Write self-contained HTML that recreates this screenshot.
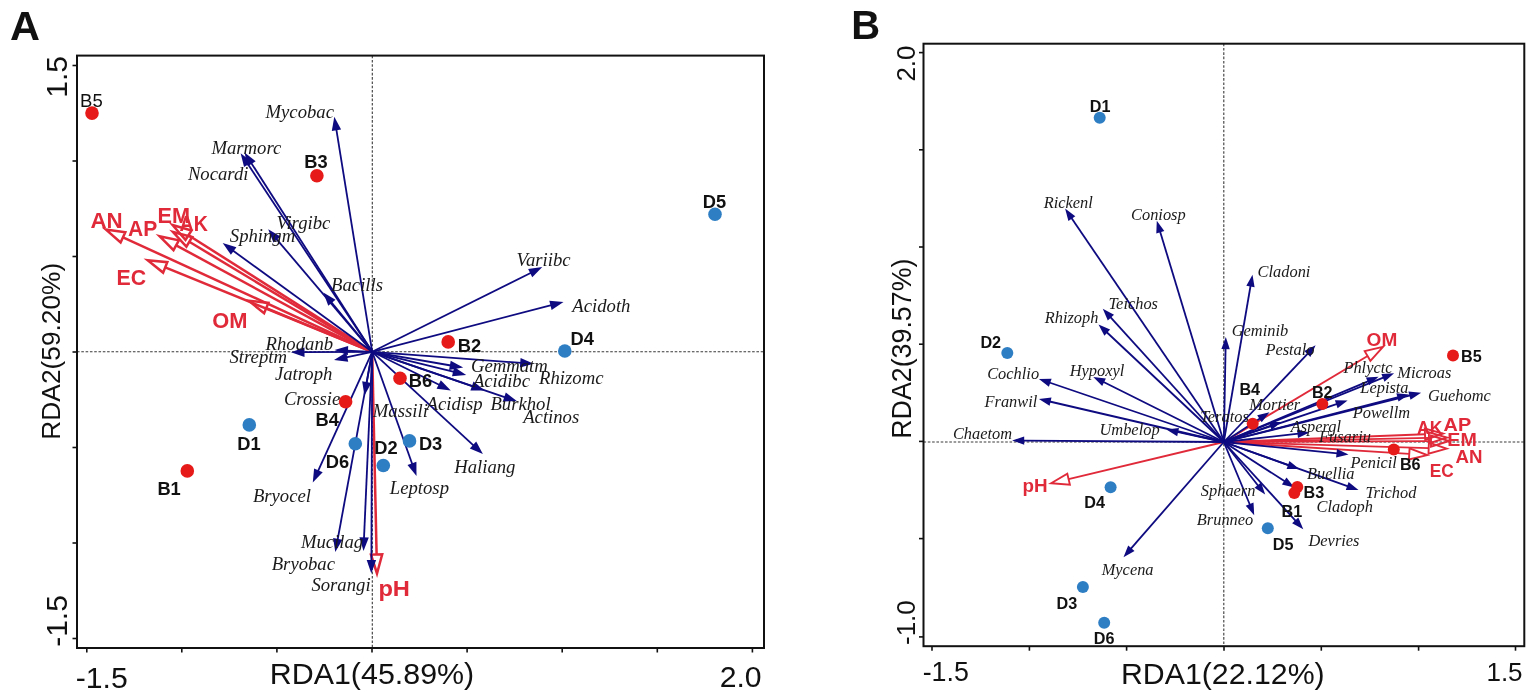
<!DOCTYPE html>
<html><head><meta charset="utf-8"><style>
html,body{margin:0;padding:0;background:#fff;}
svg{display:block;}
.sp{font-family:"Liberation Serif",serif;font-style:italic;fill:#1a1a1a;}
.smp{font-family:"Liberation Sans",sans-serif;font-weight:bold;fill:#111;}
.smpr{font-family:"Liberation Sans",sans-serif;fill:#111;}
.env{font-family:"Liberation Sans",sans-serif;font-weight:bold;fill:#e02a3a;}
.ax{font-family:"Liberation Sans",sans-serif;fill:#111;}
.panel{font-family:"Liberation Sans",sans-serif;font-weight:bold;fill:#111;}
</style></head><body>
<svg width="1535" height="698" viewBox="0 0 1535 698">
<rect width="1535" height="698" fill="#fff"/>
<line x1="77" y1="351.7" x2="764" y2="351.7" stroke="#3a3a3a" stroke-width="1.1" stroke-dasharray="2.6 1.7"/>
<line x1="372.3" y1="55.6" x2="372.3" y2="648" stroke="#3a3a3a" stroke-width="1.1" stroke-dasharray="2.6 1.7"/>
<line x1="372.2" y1="351.8" x2="123.0" y2="237.3" stroke="#e02a3a" stroke-width="2.5"/>
<polygon points="105.7,229.4 125.3,232.2 120.6,242.4" fill="none" stroke="#e02a3a" stroke-width="2.5" stroke-linejoin="miter"/>
<line x1="372.2" y1="351.8" x2="176.2" y2="245.3" stroke="#e02a3a" stroke-width="2.5"/>
<polygon points="159.5,236.2 178.9,240.4 173.5,250.2" fill="none" stroke="#e02a3a" stroke-width="2.5" stroke-linejoin="miter"/>
<line x1="372.2" y1="351.8" x2="188.5" y2="235.2" stroke="#e02a3a" stroke-width="2.5"/>
<polygon points="172.5,225.0 191.5,230.5 185.5,239.9" fill="none" stroke="#e02a3a" stroke-width="2.5" stroke-linejoin="miter"/>
<line x1="372.2" y1="351.8" x2="189.3" y2="241.8" stroke="#e02a3a" stroke-width="2.5"/>
<polygon points="173.0,232.0 192.2,237.0 186.4,246.6" fill="none" stroke="#e02a3a" stroke-width="2.5" stroke-linejoin="miter"/>
<line x1="372.2" y1="351.8" x2="165.2" y2="267.4" stroke="#e02a3a" stroke-width="2.5"/>
<polygon points="147.6,260.2 167.3,262.2 163.1,272.6" fill="none" stroke="#e02a3a" stroke-width="2.5" stroke-linejoin="miter"/>
<line x1="372.2" y1="351.8" x2="266.3" y2="308.1" stroke="#e02a3a" stroke-width="2.5"/>
<polygon points="248.7,300.8 268.4,302.9 264.1,313.2" fill="none" stroke="#e02a3a" stroke-width="2.5" stroke-linejoin="miter"/>
<line x1="372.2" y1="351.8" x2="376.6" y2="554.5" stroke="#e02a3a" stroke-width="2.5"/>
<polygon points="377.0,573.5 371.0,554.6 382.2,554.4" fill="none" stroke="#e02a3a" stroke-width="2.5" stroke-linejoin="miter"/>
<line x1="372.2" y1="351.8" x2="336.3" y2="129.1" stroke="#0e0a80" stroke-width="1.8"/>
<polygon points="334.3,116.8 341.1,129.4 331.8,130.9" fill="#0e0a80"/>
<line x1="372.2" y1="351.8" x2="247.5" y2="163.6" stroke="#0e0a80" stroke-width="1.8"/>
<polygon points="240.6,153.2 252.0,161.9 244.1,167.0" fill="#0e0a80"/>
<line x1="372.2" y1="351.8" x2="251.2" y2="162.9" stroke="#0e0a80" stroke-width="1.8"/>
<polygon points="244.5,152.4 255.7,161.2 247.8,166.3" fill="#0e0a80"/>
<line x1="372.2" y1="351.8" x2="276.3" y2="238.8" stroke="#0e0a80" stroke-width="1.8"/>
<polygon points="268.2,229.3 280.5,236.5 273.4,242.6" fill="#0e0a80"/>
<line x1="372.2" y1="351.8" x2="232.8" y2="250.5" stroke="#0e0a80" stroke-width="1.8"/>
<polygon points="222.7,243.1 236.4,247.2 230.9,254.8" fill="#0e0a80"/>
<line x1="372.2" y1="351.8" x2="331.2" y2="302.1" stroke="#0e0a80" stroke-width="1.8"/>
<polygon points="323.3,292.4 335.5,299.8 328.3,305.8" fill="#0e0a80"/>
<line x1="372.2" y1="351.8" x2="347.0" y2="350.6" stroke="#0e0a80" stroke-width="1.8"/>
<polygon points="334.5,350.0 348.2,345.9 347.8,355.3" fill="#0e0a80"/>
<line x1="372.2" y1="351.8" x2="303.5" y2="352.2" stroke="#0e0a80" stroke-width="1.8"/>
<polygon points="291.0,352.3 304.5,347.5 304.5,356.9" fill="#0e0a80"/>
<line x1="372.2" y1="351.8" x2="346.2" y2="357.4" stroke="#0e0a80" stroke-width="1.8"/>
<polygon points="334.0,360.0 346.2,352.6 348.2,361.8" fill="#0e0a80"/>
<line x1="372.2" y1="351.8" x2="366.6" y2="383.1" stroke="#0e0a80" stroke-width="1.8"/>
<polygon points="364.4,395.4 362.2,381.3 371.4,382.9" fill="#0e0a80"/>
<line x1="372.2" y1="351.8" x2="318.0" y2="471.2" stroke="#0e0a80" stroke-width="1.8"/>
<polygon points="312.8,482.6 314.1,468.4 322.7,472.3" fill="#0e0a80"/>
<line x1="372.2" y1="351.8" x2="337.6" y2="539.8" stroke="#0e0a80" stroke-width="1.8"/>
<polygon points="335.3,552.1 333.1,538.0 342.4,539.7" fill="#0e0a80"/>
<line x1="372.2" y1="351.8" x2="364.0" y2="538.4" stroke="#0e0a80" stroke-width="1.8"/>
<polygon points="363.5,550.9 359.4,537.2 368.8,537.6" fill="#0e0a80"/>
<line x1="372.2" y1="351.8" x2="371.4" y2="561.0" stroke="#0e0a80" stroke-width="1.8"/>
<polygon points="371.3,573.5 366.7,560.0 376.1,560.0" fill="#0e0a80"/>
<line x1="372.2" y1="351.8" x2="412.3" y2="464.2" stroke="#0e0a80" stroke-width="1.8"/>
<polygon points="416.5,476.0 407.5,464.9 416.4,461.7" fill="#0e0a80"/>
<line x1="372.2" y1="351.8" x2="473.7" y2="445.6" stroke="#0e0a80" stroke-width="1.8"/>
<polygon points="482.9,454.1 469.8,448.4 476.2,441.5" fill="#0e0a80"/>
<line x1="372.2" y1="351.8" x2="439.6" y2="385.0" stroke="#0e0a80" stroke-width="1.8"/>
<polygon points="450.8,390.5 436.6,388.8 440.8,380.3" fill="#0e0a80"/>
<line x1="372.2" y1="351.8" x2="472.9" y2="386.3" stroke="#0e0a80" stroke-width="1.8"/>
<polygon points="484.7,390.4 470.4,390.5 473.5,381.6" fill="#0e0a80"/>
<line x1="372.2" y1="351.8" x2="505.3" y2="397.3" stroke="#0e0a80" stroke-width="1.8"/>
<polygon points="517.1,401.3 502.8,401.4 505.8,392.5" fill="#0e0a80"/>
<line x1="372.2" y1="351.8" x2="454.1" y2="371.9" stroke="#0e0a80" stroke-width="1.8"/>
<polygon points="466.2,374.9 452.0,376.2 454.2,367.1" fill="#0e0a80"/>
<line x1="372.2" y1="351.8" x2="450.9" y2="365.5" stroke="#0e0a80" stroke-width="1.8"/>
<polygon points="463.2,367.6 449.1,369.9 450.7,360.7" fill="#0e0a80"/>
<line x1="372.2" y1="351.8" x2="521.2" y2="362.9" stroke="#0e0a80" stroke-width="1.8"/>
<polygon points="533.7,363.8 519.9,367.5 520.6,358.1" fill="#0e0a80"/>
<line x1="372.2" y1="351.8" x2="551.4" y2="305.1" stroke="#0e0a80" stroke-width="1.8"/>
<polygon points="563.5,301.9 551.6,309.9 549.3,300.8" fill="#0e0a80"/>
<line x1="372.2" y1="351.8" x2="531.1" y2="272.7" stroke="#0e0a80" stroke-width="1.8"/>
<polygon points="542.3,267.1 532.3,277.3 528.1,268.9" fill="#0e0a80"/>
<circle cx="92.0" cy="113.1" r="6.8" fill="#e61a18"/>
<circle cx="316.9" cy="175.7" r="6.8" fill="#e61a18"/>
<circle cx="448.2" cy="341.9" r="6.8" fill="#e61a18"/>
<circle cx="400.0" cy="378.3" r="6.8" fill="#e61a18"/>
<circle cx="345.6" cy="401.8" r="6.8" fill="#e61a18"/>
<circle cx="187.3" cy="470.9" r="6.8" fill="#e61a18"/>
<circle cx="715.0" cy="214.3" r="6.8" fill="#2e7ec4"/>
<circle cx="564.8" cy="351.0" r="6.8" fill="#2e7ec4"/>
<circle cx="249.3" cy="424.9" r="6.8" fill="#2e7ec4"/>
<circle cx="355.3" cy="443.7" r="6.8" fill="#2e7ec4"/>
<circle cx="383.3" cy="465.5" r="6.8" fill="#2e7ec4"/>
<circle cx="409.5" cy="440.9" r="6.8" fill="#2e7ec4"/>
<text x="265.5" y="117.6" class="sp" font-size="18.7">Mycobac</text>
<text x="211.4" y="153.7" class="sp" font-size="18.7">Marmorc</text>
<text x="187.9" y="179.7" class="sp" font-size="18.7">Nocardi</text>
<text x="276.4" y="229.2" class="sp" font-size="18.7">Virgibc</text>
<text x="229.8" y="241.8" class="sp" font-size="18.7">Sphingm</text>
<text x="331.1" y="290.9" class="sp" font-size="18.7">Bacills</text>
<text x="265.6" y="349.5" class="sp" font-size="18.7">Rhodanb</text>
<text x="229.5" y="362.9" class="sp" font-size="18.7">Streptm</text>
<text x="274.9" y="379.5" class="sp" font-size="18.7">Jatroph</text>
<text x="283.9" y="405.3" class="sp" font-size="18.7">Crossie</text>
<text x="372.8" y="416.9" class="sp" font-size="18.7">Massili</text>
<text x="252.9" y="501.7" class="sp" font-size="18.7">Bryocel</text>
<text x="389.8" y="494.4" class="sp" font-size="18.7">Leptosp</text>
<text x="300.9" y="548.0" class="sp" font-size="18.7">Mucilag</text>
<text x="271.7" y="569.9" class="sp" font-size="18.7">Bryobac</text>
<text x="311.4" y="590.7" class="sp" font-size="18.7">Sorangi</text>
<text x="454.2" y="472.8" class="sp" font-size="18.7">Haliang</text>
<text x="426.5" y="409.8" class="sp" font-size="18.7">Acidisp</text>
<text x="490.4" y="409.8" class="sp" font-size="18.7">Burkhol</text>
<text x="523.2" y="422.7" class="sp" font-size="18.7">Actinos</text>
<text x="472.9" y="386.6" class="sp" font-size="18.7">Acidibc</text>
<text x="470.9" y="372.4" class="sp" font-size="18.7">Gemmatm</text>
<text x="539.1" y="384.0" class="sp" font-size="18.7">Rhizomc</text>
<text x="572.3" y="311.8" class="sp" font-size="18.7">Acidoth</text>
<text x="516.6" y="265.8" class="sp" font-size="18.7">Variibc</text>
<text x="304.3" y="168.4" class="smp" font-size="18.3">B3</text>
<text x="457.8" y="351.5" class="smp" font-size="18.3">B2</text>
<text x="408.7" y="387.3" class="smp" font-size="18.3">B6</text>
<text x="315.6" y="426.4" class="smp" font-size="18.3">B4</text>
<text x="157.4" y="495.4" class="smp" font-size="18.3">B1</text>
<text x="702.8" y="207.9" class="smp" font-size="18.3">D5</text>
<text x="570.6" y="344.5" class="smp" font-size="18.3">D4</text>
<text x="237.3" y="449.7" class="smp" font-size="18.3">D1</text>
<text x="325.8" y="468.3" class="smp" font-size="18.3">D6</text>
<text x="374.2" y="454.3" class="smp" font-size="18.3">D2</text>
<text x="418.9" y="449.6" class="smp" font-size="18.3">D3</text>
<text x="80.1" y="106.8" class="smpr" font-size="18.5">B5</text>
<text x="90.5" y="227.8" class="env" font-size="21.8" textLength="32.25" lengthAdjust="spacingAndGlyphs">AN</text>
<text x="128.1" y="235.8" class="env" font-size="21.8" textLength="29.25" lengthAdjust="spacingAndGlyphs">AP</text>
<text x="157.5" y="223.3" class="env" font-size="21.8" textLength="32.53" lengthAdjust="spacingAndGlyphs">EM</text>
<text x="179.5" y="230.8" class="env" font-size="21.8" textLength="28.27" lengthAdjust="spacingAndGlyphs">AK</text>
<text x="116.6" y="285.3" class="env" font-size="21.8" textLength="29.61" lengthAdjust="spacingAndGlyphs">EC</text>
<text x="212.3" y="327.6" class="env" font-size="21.8" textLength="35.27" lengthAdjust="spacingAndGlyphs">OM</text>
<text x="378.4" y="596.0" class="env" font-size="21.8" textLength="31.55" lengthAdjust="spacingAndGlyphs">pH</text>
<rect x="77" y="55.6" width="687" height="592.4" fill="none" stroke="#111" stroke-width="2"/>
<line x1="72.5" y1="65.5" x2="77.0" y2="65.5" stroke="#111" stroke-width="1.6"/>
<line x1="72.5" y1="161.0" x2="77.0" y2="161.0" stroke="#111" stroke-width="1.6"/>
<line x1="72.5" y1="256.5" x2="77.0" y2="256.5" stroke="#111" stroke-width="1.6"/>
<line x1="72.5" y1="352.0" x2="77.0" y2="352.0" stroke="#111" stroke-width="1.6"/>
<line x1="72.5" y1="447.5" x2="77.0" y2="447.5" stroke="#111" stroke-width="1.6"/>
<line x1="72.5" y1="543.0" x2="77.0" y2="543.0" stroke="#111" stroke-width="1.6"/>
<line x1="72.5" y1="638.5" x2="77.0" y2="638.5" stroke="#111" stroke-width="1.6"/>
<line x1="86.8" y1="648.0" x2="86.8" y2="652.5" stroke="#111" stroke-width="1.6"/>
<line x1="181.8" y1="648.0" x2="181.8" y2="652.5" stroke="#111" stroke-width="1.6"/>
<line x1="276.9" y1="648.0" x2="276.9" y2="652.5" stroke="#111" stroke-width="1.6"/>
<line x1="372.0" y1="648.0" x2="372.0" y2="652.5" stroke="#111" stroke-width="1.6"/>
<line x1="467.1" y1="648.0" x2="467.1" y2="652.5" stroke="#111" stroke-width="1.6"/>
<line x1="562.2" y1="648.0" x2="562.2" y2="652.5" stroke="#111" stroke-width="1.6"/>
<line x1="657.3" y1="648.0" x2="657.3" y2="652.5" stroke="#111" stroke-width="1.6"/>
<line x1="752.4" y1="648.0" x2="752.4" y2="652.5" stroke="#111" stroke-width="1.6"/>
<text x="75.7" y="687.8" class="ax" font-size="30.2">-1.5</text>
<text x="761.6" y="687.2" class="ax" font-size="30.2" text-anchor="end">2.0</text>
<text x="372.0" y="684.1" class="ax" font-size="30.4" text-anchor="middle">RDA1(45.89%)</text>
<text x="67.2" y="76.9" class="ax" font-size="30" text-anchor="middle" transform="rotate(-90 67.2 76.9)">1.5</text>
<text x="67.2" y="621.0" class="ax" font-size="30" text-anchor="middle" transform="rotate(-90 67.2 621.0)">-1.5</text>
<text x="60.3" y="351.2" class="ax" font-size="26.3" text-anchor="middle" transform="rotate(-90 60.3 351.2)">RDA2(59.20%)</text>
<text x="10.0" y="39.5" class="panel" font-size="41.5">A</text>
<line x1="923.5" y1="442" x2="1524.3" y2="442" stroke="#3a3a3a" stroke-width="1.1" stroke-dasharray="2.6 1.7"/>
<line x1="1223.8" y1="43.7" x2="1223.8" y2="646.2" stroke="#3a3a3a" stroke-width="1.1" stroke-dasharray="2.6 1.7"/>
<line x1="1223.8" y1="442.0" x2="1367.6" y2="356.0" stroke="#e02a3a" stroke-width="1.9"/>
<polygon points="1383.0,346.8 1370.4,360.8 1364.7,351.2" fill="none" stroke="#e02a3a" stroke-width="1.9" stroke-linejoin="miter"/>
<line x1="1223.8" y1="442.0" x2="1068.6" y2="479.1" stroke="#e02a3a" stroke-width="1.9"/>
<polygon points="1051.1,483.3 1067.3,473.7 1069.9,484.6" fill="none" stroke="#e02a3a" stroke-width="1.9" stroke-linejoin="miter"/>
<line x1="1223.8" y1="442.0" x2="1409.2" y2="453.9" stroke="#e02a3a" stroke-width="1.9"/>
<polygon points="1427.2,455.1 1408.9,459.5 1409.6,448.4" fill="none" stroke="#e02a3a" stroke-width="1.9" stroke-linejoin="miter"/>
<line x1="1223.8" y1="442.0" x2="1428.7" y2="448.1" stroke="#e02a3a" stroke-width="1.9"/>
<polygon points="1446.7,448.6 1428.5,453.7 1428.9,442.5" fill="none" stroke="#e02a3a" stroke-width="1.9" stroke-linejoin="miter"/>
<line x1="1223.8" y1="442.0" x2="1431.0" y2="441.1" stroke="#e02a3a" stroke-width="1.9"/>
<polygon points="1449.0,441.0 1431.0,446.7 1431.0,435.5" fill="none" stroke="#e02a3a" stroke-width="1.9" stroke-linejoin="miter"/>
<line x1="1223.8" y1="442.0" x2="1429.0" y2="437.9" stroke="#e02a3a" stroke-width="1.9"/>
<polygon points="1447.0,437.5 1429.1,443.5 1428.9,432.3" fill="none" stroke="#e02a3a" stroke-width="1.9" stroke-linejoin="miter"/>
<line x1="1223.8" y1="442.0" x2="1425.0" y2="434.2" stroke="#e02a3a" stroke-width="1.9"/>
<polygon points="1443.0,433.5 1425.2,439.8 1424.8,428.6" fill="none" stroke="#e02a3a" stroke-width="1.9" stroke-linejoin="miter"/>
<line x1="1223.8" y1="442.0" x2="1071.3" y2="217.7" stroke="#0e0a80" stroke-width="1.8"/>
<polygon points="1065.1,208.6 1075.3,216.2 1068.4,220.9" fill="#0e0a80"/>
<line x1="1223.8" y1="442.0" x2="1160.0" y2="231.3" stroke="#0e0a80" stroke-width="1.8"/>
<polygon points="1156.8,220.8 1164.3,231.1 1156.3,233.5" fill="#0e0a80"/>
<line x1="1223.8" y1="442.0" x2="1250.6" y2="285.5" stroke="#0e0a80" stroke-width="1.8"/>
<polygon points="1252.5,274.7 1254.6,287.2 1246.3,285.8" fill="#0e0a80"/>
<line x1="1223.8" y1="442.0" x2="1110.2" y2="316.8" stroke="#0e0a80" stroke-width="1.8"/>
<polygon points="1102.8,308.7 1114.0,314.8 1107.8,320.4" fill="#0e0a80"/>
<line x1="1223.8" y1="442.0" x2="1106.5" y2="332.0" stroke="#0e0a80" stroke-width="1.8"/>
<polygon points="1098.5,324.5 1110.1,329.6 1104.4,335.8" fill="#0e0a80"/>
<line x1="1223.8" y1="442.0" x2="1225.6" y2="348.1" stroke="#0e0a80" stroke-width="1.8"/>
<polygon points="1225.8,337.1 1229.8,349.2 1221.4,349.0" fill="#0e0a80"/>
<line x1="1223.8" y1="442.0" x2="1308.0" y2="353.3" stroke="#0e0a80" stroke-width="1.8"/>
<polygon points="1315.6,345.3 1310.4,356.9 1304.3,351.1" fill="#0e0a80"/>
<line x1="1223.8" y1="442.0" x2="1103.1" y2="381.8" stroke="#0e0a80" stroke-width="1.8"/>
<polygon points="1093.3,376.9 1105.9,378.5 1102.2,386.0" fill="#0e0a80"/>
<line x1="1223.8" y1="442.0" x2="1049.3" y2="382.5" stroke="#0e0a80" stroke-width="1.8"/>
<polygon points="1038.9,378.9 1051.6,378.8 1048.9,386.8" fill="#0e0a80"/>
<line x1="1223.8" y1="442.0" x2="1049.6" y2="401.5" stroke="#0e0a80" stroke-width="1.8"/>
<polygon points="1038.9,399.0 1051.5,397.6 1049.6,405.8" fill="#0e0a80"/>
<line x1="1223.8" y1="442.0" x2="1023.2" y2="440.6" stroke="#0e0a80" stroke-width="1.8"/>
<polygon points="1012.2,440.5 1024.2,436.4 1024.2,444.8" fill="#0e0a80"/>
<line x1="1223.8" y1="442.0" x2="1177.1" y2="431.8" stroke="#0e0a80" stroke-width="1.8"/>
<polygon points="1166.4,429.5 1179.0,427.9 1177.2,436.2" fill="#0e0a80"/>
<line x1="1223.8" y1="442.0" x2="1260.3" y2="418.2" stroke="#0e0a80" stroke-width="1.8"/>
<polygon points="1269.5,412.2 1261.7,422.3 1257.2,415.2" fill="#0e0a80"/>
<line x1="1223.8" y1="442.0" x2="1271.1" y2="425.6" stroke="#0e0a80" stroke-width="1.8"/>
<polygon points="1281.5,422.0 1271.5,429.9 1268.8,422.0" fill="#0e0a80"/>
<line x1="1223.8" y1="442.0" x2="1368.5" y2="381.1" stroke="#0e0a80" stroke-width="1.8"/>
<polygon points="1378.6,376.8 1369.2,385.3 1365.9,377.6" fill="#0e0a80"/>
<line x1="1223.8" y1="442.0" x2="1383.9" y2="377.4" stroke="#0e0a80" stroke-width="1.8"/>
<polygon points="1394.1,373.3 1384.5,381.7 1381.4,373.9" fill="#0e0a80"/>
<line x1="1223.8" y1="442.0" x2="1337.2" y2="403.9" stroke="#0e0a80" stroke-width="1.8"/>
<polygon points="1347.6,400.4 1337.6,408.2 1334.9,400.2" fill="#0e0a80"/>
<line x1="1223.8" y1="442.0" x2="1410.4" y2="395.4" stroke="#0e0a80" stroke-width="1.8"/>
<polygon points="1421.1,392.7 1410.5,399.7 1408.4,391.5" fill="#0e0a80"/>
<line x1="1223.8" y1="442.0" x2="1398.4" y2="397.1" stroke="#0e0a80" stroke-width="1.8"/>
<polygon points="1409.1,394.4 1398.5,401.5 1396.4,393.3" fill="#0e0a80"/>
<line x1="1223.8" y1="442.0" x2="1298.6" y2="433.7" stroke="#0e0a80" stroke-width="1.8"/>
<polygon points="1309.5,432.5 1298.0,438.0 1297.1,429.6" fill="#0e0a80"/>
<line x1="1223.8" y1="442.0" x2="1337.6" y2="453.4" stroke="#0e0a80" stroke-width="1.8"/>
<polygon points="1348.5,454.5 1336.1,457.5 1337.0,449.1" fill="#0e0a80"/>
<line x1="1223.8" y1="442.0" x2="1288.9" y2="465.4" stroke="#0e0a80" stroke-width="1.8"/>
<polygon points="1299.3,469.1 1286.6,469.0 1289.4,461.1" fill="#0e0a80"/>
<line x1="1223.8" y1="442.0" x2="1348.1" y2="486.4" stroke="#0e0a80" stroke-width="1.8"/>
<polygon points="1358.5,490.1 1345.8,490.0 1348.6,482.1" fill="#0e0a80"/>
<line x1="1223.8" y1="442.0" x2="1285.1" y2="481.5" stroke="#0e0a80" stroke-width="1.8"/>
<polygon points="1294.3,487.5 1281.9,484.5 1286.5,477.5" fill="#0e0a80"/>
<line x1="1223.8" y1="442.0" x2="1258.4" y2="486.0" stroke="#0e0a80" stroke-width="1.8"/>
<polygon points="1265.2,494.6 1254.5,487.8 1261.1,482.6" fill="#0e0a80"/>
<line x1="1223.8" y1="442.0" x2="1250.0" y2="505.0" stroke="#0e0a80" stroke-width="1.8"/>
<polygon points="1254.2,515.2 1245.7,505.7 1253.5,502.5" fill="#0e0a80"/>
<line x1="1223.8" y1="442.0" x2="1295.9" y2="521.1" stroke="#0e0a80" stroke-width="1.8"/>
<polygon points="1303.3,529.2 1292.1,523.2 1298.3,517.5" fill="#0e0a80"/>
<line x1="1223.8" y1="442.0" x2="1130.7" y2="548.9" stroke="#0e0a80" stroke-width="1.8"/>
<polygon points="1123.5,557.2 1128.2,545.4 1134.5,550.9" fill="#0e0a80"/>
<circle cx="1453.0" cy="355.4" r="6" fill="#e61a18"/>
<circle cx="1322.3" cy="404.1" r="6" fill="#e61a18"/>
<circle cx="1252.7" cy="423.8" r="6" fill="#e61a18"/>
<circle cx="1393.8" cy="449.6" r="6" fill="#e61a18"/>
<circle cx="1297.3" cy="487.1" r="6" fill="#e61a18"/>
<circle cx="1294.3" cy="493.1" r="6" fill="#e61a18"/>
<circle cx="1099.7" cy="117.8" r="6" fill="#2e7ec4"/>
<circle cx="1007.3" cy="353.1" r="6" fill="#2e7ec4"/>
<circle cx="1110.6" cy="487.2" r="6" fill="#2e7ec4"/>
<circle cx="1267.8" cy="528.2" r="6" fill="#2e7ec4"/>
<circle cx="1082.9" cy="587.0" r="6" fill="#2e7ec4"/>
<circle cx="1104.2" cy="622.8" r="6" fill="#2e7ec4"/>
<text x="1043.7" y="208.3" class="sp" font-size="16.4">Rickenl</text>
<text x="1131.0" y="219.8" class="sp" font-size="16.4">Coniosp</text>
<text x="1257.6" y="276.5" class="sp" font-size="16.4">Cladoni</text>
<text x="1108.5" y="308.7" class="sp" font-size="16.4">Teichos</text>
<text x="1044.7" y="323.1" class="sp" font-size="16.4">Rhizoph</text>
<text x="1231.7" y="336.4" class="sp" font-size="16.4">Geminib</text>
<text x="1265.4" y="355.4" class="sp" font-size="16.4">Pestalo</text>
<text x="1069.7" y="376.1" class="sp" font-size="16.4">Hypoxyl</text>
<text x="987.2" y="378.9" class="sp" font-size="16.4">Cochlio</text>
<text x="984.5" y="406.7" class="sp" font-size="16.4">Franwil</text>
<text x="952.9" y="438.8" class="sp" font-size="16.4">Chaetom</text>
<text x="1099.5" y="435.4" class="sp" font-size="16.4">Umbelop</text>
<text x="1200.2" y="422.2" class="sp" font-size="16.4">Teratos</text>
<text x="1249.2" y="409.9" class="sp" font-size="16.4">Mortier</text>
<text x="1343.4" y="372.5" class="sp" font-size="16.4">Phlyctc</text>
<text x="1397.3" y="378.3" class="sp" font-size="16.4">Microas</text>
<text x="1360.3" y="393.0" class="sp" font-size="16.4">Lepista</text>
<text x="1428.0" y="400.5" class="sp" font-size="16.4">Guehomc</text>
<text x="1352.7" y="417.7" class="sp" font-size="16.4">Powellm</text>
<text x="1290.7" y="431.7" class="sp" font-size="16.4">Aspergl</text>
<text x="1319.0" y="441.5" class="sp" font-size="16.4">Fusariu</text>
<text x="1350.5" y="468.1" class="sp" font-size="16.4">Penicil</text>
<text x="1307.1" y="478.7" class="sp" font-size="16.4">Buellia</text>
<text x="1365.4" y="497.8" class="sp" font-size="16.4">Trichod</text>
<text x="1316.5" y="511.8" class="sp" font-size="16.4">Cladoph</text>
<text x="1200.8" y="495.8" class="sp" font-size="16.4">Sphaern</text>
<text x="1196.8" y="524.8" class="sp" font-size="16.4">Brunneo</text>
<text x="1308.5" y="545.9" class="sp" font-size="16.4">Devries</text>
<text x="1101.7" y="575.0" class="sp" font-size="16.4">Mycena</text>
<text x="1089.8" y="112.2" class="smp" font-size="16.2">D1</text>
<text x="980.4" y="348.0" class="smp" font-size="16.2">D2</text>
<text x="1239.4" y="394.8" class="smp" font-size="16.2">B4</text>
<text x="1311.9" y="398.0" class="smp" font-size="16.2">B2</text>
<text x="1461.1" y="362.3" class="smp" font-size="16.2">B5</text>
<text x="1399.9" y="470.2" class="smp" font-size="16.2">B6</text>
<text x="1303.6" y="497.8" class="smp" font-size="16.2">B3</text>
<text x="1281.6" y="516.8" class="smp" font-size="16.2">B1</text>
<text x="1084.2" y="508.4" class="smp" font-size="16.2">D4</text>
<text x="1272.7" y="550.3" class="smp" font-size="16.2">D5</text>
<text x="1056.6" y="608.6" class="smp" font-size="16.2">D3</text>
<text x="1093.8" y="644.4" class="smp" font-size="16.2">D6</text>
<text x="1366.6" y="345.8" class="env" font-size="19" textLength="30.66" lengthAdjust="spacingAndGlyphs">OM</text>
<text x="1022.4" y="492.1" class="env" font-size="19" textLength="25.11" lengthAdjust="spacingAndGlyphs">pH</text>
<text x="1417.1" y="433.5" class="env" font-size="19" textLength="25.30" lengthAdjust="spacingAndGlyphs">AK</text>
<text x="1443.6" y="431.0" class="env" font-size="19" textLength="27.57" lengthAdjust="spacingAndGlyphs">AP</text>
<text x="1447.3" y="446.4" class="env" font-size="19" textLength="29.45" lengthAdjust="spacingAndGlyphs">EM</text>
<text x="1455.6" y="463.0" class="env" font-size="19" textLength="27.02" lengthAdjust="spacingAndGlyphs">AN</text>
<text x="1429.8" y="476.5" class="env" font-size="19" textLength="24.03" lengthAdjust="spacingAndGlyphs">EC</text>
<rect x="923.5" y="43.7" width="600.8" height="602.5" fill="none" stroke="#111" stroke-width="2"/>
<line x1="919.0" y1="52.6" x2="923.5" y2="52.6" stroke="#111" stroke-width="1.6"/>
<line x1="919.0" y1="149.8" x2="923.5" y2="149.8" stroke="#111" stroke-width="1.6"/>
<line x1="919.0" y1="247.0" x2="923.5" y2="247.0" stroke="#111" stroke-width="1.6"/>
<line x1="919.0" y1="344.2" x2="923.5" y2="344.2" stroke="#111" stroke-width="1.6"/>
<line x1="919.0" y1="441.4" x2="923.5" y2="441.4" stroke="#111" stroke-width="1.6"/>
<line x1="919.0" y1="538.6" x2="923.5" y2="538.6" stroke="#111" stroke-width="1.6"/>
<line x1="919.0" y1="636.9" x2="923.5" y2="636.9" stroke="#111" stroke-width="1.6"/>
<line x1="932.0" y1="646.2" x2="932.0" y2="650.7" stroke="#111" stroke-width="1.6"/>
<line x1="1029.4" y1="646.2" x2="1029.4" y2="650.7" stroke="#111" stroke-width="1.6"/>
<line x1="1126.6" y1="646.2" x2="1126.6" y2="650.7" stroke="#111" stroke-width="1.6"/>
<line x1="1224.0" y1="646.2" x2="1224.0" y2="650.7" stroke="#111" stroke-width="1.6"/>
<line x1="1321.3" y1="646.2" x2="1321.3" y2="650.7" stroke="#111" stroke-width="1.6"/>
<line x1="1418.6" y1="646.2" x2="1418.6" y2="650.7" stroke="#111" stroke-width="1.6"/>
<line x1="1515.5" y1="646.2" x2="1515.5" y2="650.7" stroke="#111" stroke-width="1.6"/>
<text x="922.7" y="681.0" class="ax" font-size="26.8">-1.5</text>
<text x="1522.6" y="681.3" class="ax" font-size="26" text-anchor="end">1.5</text>
<text x="1222.8" y="684.0" class="ax" font-size="30.3" text-anchor="middle">RDA1(22.12%)</text>
<text x="914.9" y="63.5" class="ax" font-size="26" text-anchor="middle" transform="rotate(-90 914.9 63.5)">2.0</text>
<text x="915.5" y="622.6" class="ax" font-size="26" text-anchor="middle" transform="rotate(-90 915.5 622.6)">-1.0</text>
<text x="911.0" y="348.7" class="ax" font-size="26.8" text-anchor="middle" transform="rotate(-90 911.0 348.7)">RDA2(39.57%)</text>
<text x="851.3" y="39.3" class="panel" font-size="40">B</text>
</svg>
</body></html>
